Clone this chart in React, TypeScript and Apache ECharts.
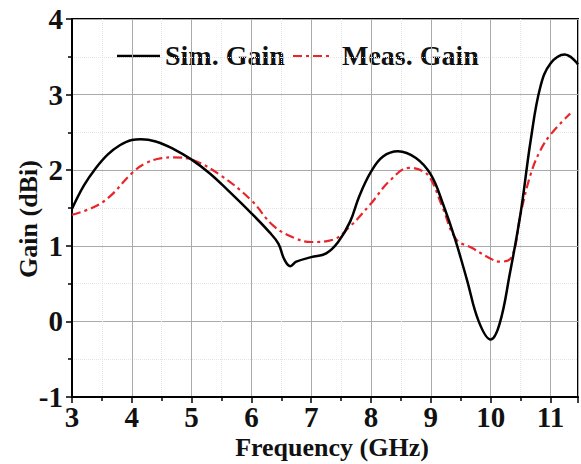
import React, { useEffect, useRef } from "react";
import * as echarts from "echarts";

const simFreq = [3.0, 3.2, 3.4, 3.6, 3.8, 4.0, 4.15, 4.4, 4.7, 5.0, 5.3, 5.6, 6.0, 6.3, 6.45, 6.55, 6.65, 6.75, 7.0, 7.25, 7.45, 7.65, 7.8, 8.0, 8.2, 8.45, 8.75, 9.0, 9.2, 9.4, 9.6, 9.8, 10.0, 10.15, 10.32, 10.5, 10.67, 10.83, 11.0, 11.24, 11.46];
const simGain = [1.49, 1.8, 2.03, 2.21, 2.33, 2.4, 2.41, 2.38, 2.28, 2.14, 1.96, 1.74, 1.43, 1.18, 1.03, 0.82, 0.73, 0.79, 0.85, 0.9, 1.05, 1.32, 1.65, 1.98, 2.18, 2.25, 2.16, 1.94, 1.56, 1.1, 0.56, 0.0, -0.24, -0.03, 0.63, 1.43, 2.4, 3.1, 3.41, 3.53, 3.4];

const measFreq = [3.0, 3.36, 3.63, 4.0, 4.23, 4.5, 4.7, 5.0, 5.47, 6.0, 6.36, 6.7, 7.0, 7.36, 7.64, 8.0, 8.3, 8.64, 8.86, 9.0, 9.2, 9.42, 9.69, 10.0, 10.15, 10.35, 10.5, 10.67, 10.83, 11.0, 11.33];
const measGain = [1.41, 1.51, 1.65, 1.96, 2.09, 2.16, 2.17, 2.14, 1.94, 1.6, 1.27, 1.11, 1.05, 1.08, 1.25, 1.56, 1.85, 2.03, 1.99, 1.88, 1.5, 1.09, 0.97, 0.83, 0.79, 0.85, 1.42, 1.95, 2.26, 2.47, 2.75];

const seriesNames = ["Sim. Gain", "Meas. Gain"];
const xTitle = "Frequency (GHz)";
const yTitle = "Gain (dBi)";

const FONT = '"Liberation Serif", "Times New Roman", serif';

export default function App() {
  const ref = useRef<HTMLDivElement>(null);
  useEffect(() => {
    if (!ref.current) return;
    const chart = echarts.init(ref.current, undefined, { renderer: "svg" });
    const zip = (xs: number[], ys: number[]) => xs.map((x, i) => [x, ys[i]]);
    const axisText = { fontFamily: FONT, fontWeight: "bold" as const, fontSize: 29, lineHeight: 20, color: "#111" };
    chart.setOption({
      animation: false,
      backgroundColor: "#fff",
      grid: { left: 72, right: 3, top: 19, bottom: 67, show: true, borderColor: "#000", borderWidth: 2, backgroundColor: "transparent" },
      xAxis: {
        type: "value",
        min: 3,
        max: 11.46,
        interval: 1,
        axisLine: { show: true, onZero: false, lineStyle: { color: "#000", width: 2 } },
        axisTick: { show: true, length: 6, inside: false, lineStyle: { color: "#000", width: 1.5 } },
        minorTick: { show: true, splitNumber: 2, length: 4, lineStyle: { color: "#000", width: 1.5 } },
        splitLine: { show: true, lineStyle: { color: "#aaa", width: 1 } },
        minorSplitLine: { show: true, lineStyle: { color: "#e4e4e4", width: 1, type: "dotted" } },
        axisLabel: { ...axisText, margin: 10, showMaxLabel: false },
      },
      yAxis: {
        type: "value",
        min: -1,
        max: 4,
        interval: 1,
        axisLine: { show: true, onZero: false, lineStyle: { color: "#000", width: 2 } },
        axisTick: { show: true, length: 6, inside: false, lineStyle: { color: "#000", width: 1.5 } },
        minorTick: { show: true, splitNumber: 2, length: 4, lineStyle: { color: "#000", width: 1.5 } },
        splitLine: { show: true, lineStyle: { color: "#aaa", width: 1 } },
        minorSplitLine: { show: true, lineStyle: { color: "#e4e4e4", width: 1, type: "dotted" } },
        axisLabel: { ...axisText, margin: 9 },
      },
      series: [
        {
          name: seriesNames[0],
          type: "line",
          data: zip(simFreq, simGain),
          smooth: 0.4,
          showSymbol: false,
          symbol: "none",
          lineStyle: { color: "#000", width: 2.5 },
          z: 3,
        },
        {
          name: seriesNames[1],
          type: "line",
          data: zip(measFreq, measGain),
          smooth: 0.4,
          showSymbol: false,
          symbol: "none",
          lineStyle: { color: "#e8262a", width: 2.2, type: [9, 4, 3, 4] },
          z: 2,
        },
      ],
      graphic: [
        { type: "line", shape: { x1: 117, y1: 56, x2: 160, y2: 56 }, style: { stroke: "#000", lineWidth: 2.5 } },
        { type: "text", x: 165, y: 55, style: { text: seriesNames[0], fontFamily: FONT, fontWeight: "bold", fontSize: 28, fill: "#111", verticalAlign: "middle" } },
        { type: "line", shape: { x1: 293, y1: 56, x2: 333, y2: 56 }, style: { stroke: "#e8262a", lineWidth: 2.2, lineDash: [9, 4, 3, 4] } },
        { type: "text", x: 342, y: 55, style: { text: seriesNames[1], fontFamily: FONT, fontWeight: "bold", fontSize: 28, fill: "#111", verticalAlign: "middle" } },
        { type: "text", x: 332, y: 447, style: { text: xTitle, fontFamily: FONT, fontWeight: "bold", fontSize: 26, lineHeight: 20, fill: "#111", align: "center", verticalAlign: "middle" } },
        { type: "text", x: 28, y: 219, rotation: Math.PI / 2, style: { text: yTitle, fontFamily: FONT, fontWeight: "bold", fontSize: 26, fill: "#111", align: "center", verticalAlign: "middle" } },
      ],
    });
    return () => chart.dispose();
  }, []);
  return <div ref={ref} style={{ position: "fixed", left: 0, top: 0, width: 581, height: 464 }} />;
}
